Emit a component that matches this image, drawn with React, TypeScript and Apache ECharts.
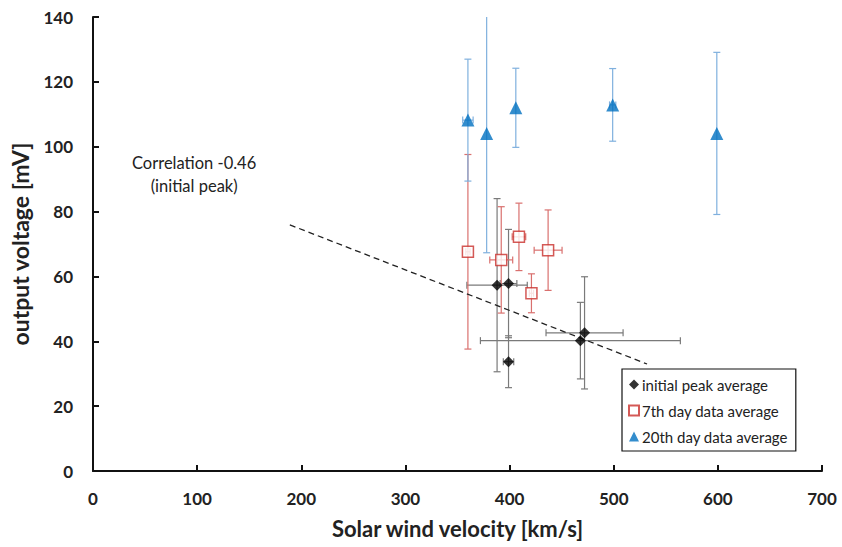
import React, { useEffect, useRef } from "react";
import * as echarts from "echarts";

// initial peak average
const initialX = [388, 399, 399, 472, 468];
const initialY = [57.3, 57.8, 33.7, 42.6, 40.2];
const initialXErr = [29, 8, 5, 37, 96];
const initialYErr = [26.7, 16.7, 8, 17.3, 11.8];

// 7th day data average
const day7X = [360, 392, 409, 421, 437];
const day7Y = [67.6, 65.1, 72.2, 54.8, 68.1];
const day7XErr = [2, 11, 6.5, 2, 13.4];
const day7YErr = [30, 16.4, 10.4, 6, 12.4];

// 20th day data average
const day20X = [360, 378, 406, 499, 599];
const day20Y = [108.2, 104.1, 112.0, 112.9, 104.1];
const day20XErr = [5, 0, 0, 3, 0];
const day20YErr = [18.8, 36.8, 12.2, 11.2, 25];

// trend line of initial peak
const trendX = [189, 532];
const trendY = [75.9, 33.0];

const seriesNames = ["initial peak average", "7th day data average", "20th day data average"];
const xTicks = [0, 100, 200, 300, 400, 500, 600, 700];
const yTicks = [0, 20, 40, 60, 80, 100, 120, 140];

const FONT = "Lato";

function errData(xs: number[], ys: number[], xe: number[], ye: number[]) {
  return xs.map((x, i) => [x, ys[i], xe[i], ye[i]]);
}

function errSeries(name: string, data: number[][], color: string) {
  return {
    type: "custom",
    name: name + " err",
    clip: true,
    silent: true,
    z: 1,
    data,
    renderItem: (params: any, api: any) => {
      const x = api.value(0);
      const y = api.value(1);
      const xe = api.value(2);
      const ye = api.value(3);
      const style = { stroke: color, lineWidth: 1.2 };
      const cap = 3.5;
      const children: any[] = [];
      if (ye > 0) {
        const t = api.coord([x, y + ye]);
        const b = api.coord([x, y - ye]);
        children.push({ type: "line", shape: { x1: t[0], y1: t[1], x2: b[0], y2: b[1] }, style });
        children.push({ type: "line", shape: { x1: t[0] - cap, y1: t[1], x2: t[0] + cap, y2: t[1] }, style });
        children.push({ type: "line", shape: { x1: b[0] - cap, y1: b[1], x2: b[0] + cap, y2: b[1] }, style });
      }
      if (xe > 0) {
        const l = api.coord([x - xe, y]);
        const r = api.coord([x + xe, y]);
        children.push({ type: "line", shape: { x1: l[0], y1: l[1], x2: r[0], y2: r[1] }, style });
        children.push({ type: "line", shape: { x1: l[0], y1: l[1] - cap, x2: l[0], y2: l[1] + cap }, style });
        children.push({ type: "line", shape: { x1: r[0], y1: r[1] - cap, x2: r[0], y2: r[1] + cap }, style });
      }
      return { type: "group", children };
    },
  };
}

export default function App() {
  const ref = useRef<HTMLDivElement>(null);
  useEffect(() => {
    if (!ref.current) return;
    const chart = echarts.init(ref.current, null, { renderer: "svg" });
    chart.setOption({
      animation: false,
      backgroundColor: "#ffffff",
      textStyle: { fontFamily: FONT },
      grid: { left: 93, right: 20, top: 17, bottom: 76, containLabel: false },
      xAxis: {
        type: "value",
        min: xTicks[0],
        max: xTicks[xTicks.length - 1],
        interval: 100,
        name: "Solar wind velocity [km/s]",
        nameLocation: "middle",
        nameGap: 46,
        nameTextStyle: { fontFamily: FONT, fontWeight: "bold", fontSize: 22, color: "#222" },
        axisLine: { show: true, lineStyle: { color: "#111", width: 2 } },
        axisTick: { show: true, inside: true, length: 6, lineStyle: { color: "#111", width: 2 } },
        axisLabel: { fontFamily: FONT, fontWeight: "bold", fontSize: 17, color: "#222", margin: 19 },
        splitLine: { show: false },
      },
      yAxis: {
        type: "value",
        min: yTicks[0],
        max: yTicks[yTicks.length - 1],
        interval: 20,
        name: "output voltage [mV]",
        nameLocation: "middle",
        nameGap: 62,
        nameTextStyle: { fontFamily: FONT, fontWeight: "bold", fontSize: 23, color: "#222" },
        axisLine: { show: true, lineStyle: { color: "#111", width: 2 } },
        axisTick: { show: true, inside: true, length: 6, lineStyle: { color: "#111", width: 2 } },
        axisLabel: { fontFamily: FONT, fontWeight: "bold", fontSize: 17, color: "#222", margin: 20 },
        splitLine: { show: false },
      },
      legend: {
        data: seriesNames,
        orient: "vertical",
        left: 622,
        top: 369,
        padding: [8, 8, 7, 6],
        itemGap: 11,
        itemWidth: 10,
        itemHeight: 10,
        borderColor: "#111",
        borderWidth: 1.2,
        backgroundColor: "#fff",
        textStyle: { fontFamily: FONT, fontSize: 15, color: "#222", padding: [0, 0, 0, -2] },
      },
      graphic: [
        {
          type: "text",
          left: 132,
          top: 151,
          style: {
            text: "Correlation -0.46\n(initial peak)",
            fill: "#222",
            font: `16.5px ${FONT}`,
            textAlign: "center",
            lineHeight: 23,
          },
        },
      ],
      series: [
        errSeries(seriesNames[0], errData(initialX, initialY, initialXErr, initialYErr), "#7a7a7a"),
        errSeries(seriesNames[1], errData(day7X, day7Y, day7XErr, day7YErr), "#d9706e"),
        errSeries(seriesNames[2], errData(day20X, day20Y, day20XErr, day20YErr), "#7fb0de"),
        {
          type: "line",
          name: "trend",
          data: trendX.map((x, i) => [x, trendY[i]]),
          showSymbol: false,
          symbol: "none",
          lineStyle: { color: "#222", width: 1.3, type: [6, 4] },
          z: 2,
          silent: true,
        },
        {
          type: "scatter",
          name: seriesNames[0],
          data: initialX.map((x, i) => [x, initialY[i]]),
          symbol: "diamond",
          symbolSize: 11,
          itemStyle: { color: "#000" },
          z: 5,
        },
        {
          type: "scatter",
          name: seriesNames[1],
          data: day7X.map((x, i) => [x, day7Y[i]]),
          symbol: "rect",
          symbolSize: 11,
          itemStyle: { color: "#fff", borderColor: "#c9302c", borderWidth: 1.5 },
          z: 5,
        },
        {
          type: "scatter",
          name: seriesNames[2],
          data: day20X.map((x, i) => [x, day20Y[i]]),
          symbol: "triangle",
          symbolSize: 13,
          itemStyle: { color: "#0070c0" },
          z: 5,
        },
      ],
    });
    return () => chart.dispose();
  }, []);
  return (
    <div
      ref={ref}
      style={{ position: "absolute", left: 0, top: 0, width: 842, height: 547 }}
    />
  );
}
